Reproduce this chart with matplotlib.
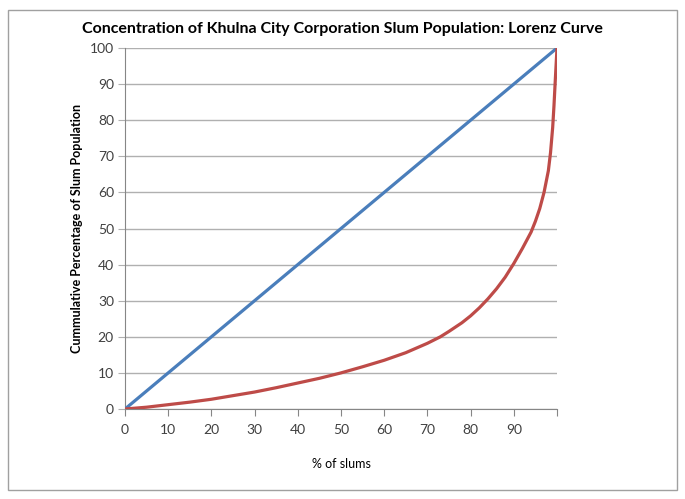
import matplotlib
matplotlib.use("Agg")
import matplotlib.pyplot as plt
from matplotlib.patches import Rectangle

plt.rcParams['font.family'] = ['Lato', 'DejaVu Sans']

# equality line
equal_x = [0, 100]
equal_y = [0, 100]

# Lorenz curve
slum_pct = [0, 5, 10, 15, 20, 25, 30, 35, 40, 45, 50, 55, 60, 65, 70, 73, 75,
            78, 80, 82, 84, 86, 88, 90, 92, 94, 95, 96, 97, 98, 98.5, 99,
            99.3, 99.6, 100]
pop_pct = [0, 0.5, 1.2, 1.9, 2.7, 3.7, 4.7, 5.9, 7.2, 8.5, 10, 11.7, 13.5,
           15.6, 18.2, 20, 21.5, 23.9, 25.8, 28, 30.5, 33.3, 36.5, 40.3, 44.5,
           49, 52, 55.5, 60, 66, 71, 78, 84, 91, 100]

xticks = list(range(0, 100, 10))
yticks = list(range(0, 101, 10))

fig = plt.figure(figsize=(6.85, 4.99), dpi=100)
fig.patches.append(Rectangle((8 / 685, 1 - 490 / 499), 669 / 685, 480 / 499,
                             transform=fig.transFigure, fill=False,
                             edgecolor='#a0a0a0', linewidth=1))
ax = fig.add_axes([125 / 685, 1 - 409 / 499, 432 / 685, 361 / 499])

ax.plot(equal_x, equal_y, color='#4a7ebb', linewidth=2.3, solid_capstyle='round', zorder=3)
ax.plot(slum_pct, pop_pct, color='#be4b48', linewidth=2.3, solid_capstyle='round',
        solid_joinstyle='round', zorder=3)

ax.set_xlim(0, 100)
ax.set_ylim(0, 100)
ax.set_xticks(xticks + [100])
ax.set_xticklabels([str(t) for t in xticks] + [''])
ax.set_yticks(yticks)
ax.tick_params(axis='x', direction='out', length=5, color='#868686', labelsize=10,
               labelcolor='#404040', pad=6)
ax.tick_params(axis='y', direction='out', length=5, color='#b0b0b0', labelsize=10,
               labelcolor='#404040', pad=3)
ax.grid(axis='y', color='#b0b0b0', linewidth=1)
ax.set_axisbelow(True)
for side in ['top', 'right']:
    ax.spines[side].set_visible(False)
ax.spines['left'].set_color('#868686')
ax.spines['bottom'].set_color('#868686')

ax.set_xlabel('% of slums', fontsize=9, labelpad=16)
ax.set_ylabel('Cummulative Percentage of Slum Population', fontsize=9,
              fontweight='bold', labelpad=5)
fig.text(342 / 685, 1 - 29 / 499, 'Concentration of Khulna City Corporation Slum Population: Lorenz Curve',
         ha='center', va='center', fontsize=11.5, fontweight='bold')

fig.savefig('out.png', dpi=100, facecolor='white')
